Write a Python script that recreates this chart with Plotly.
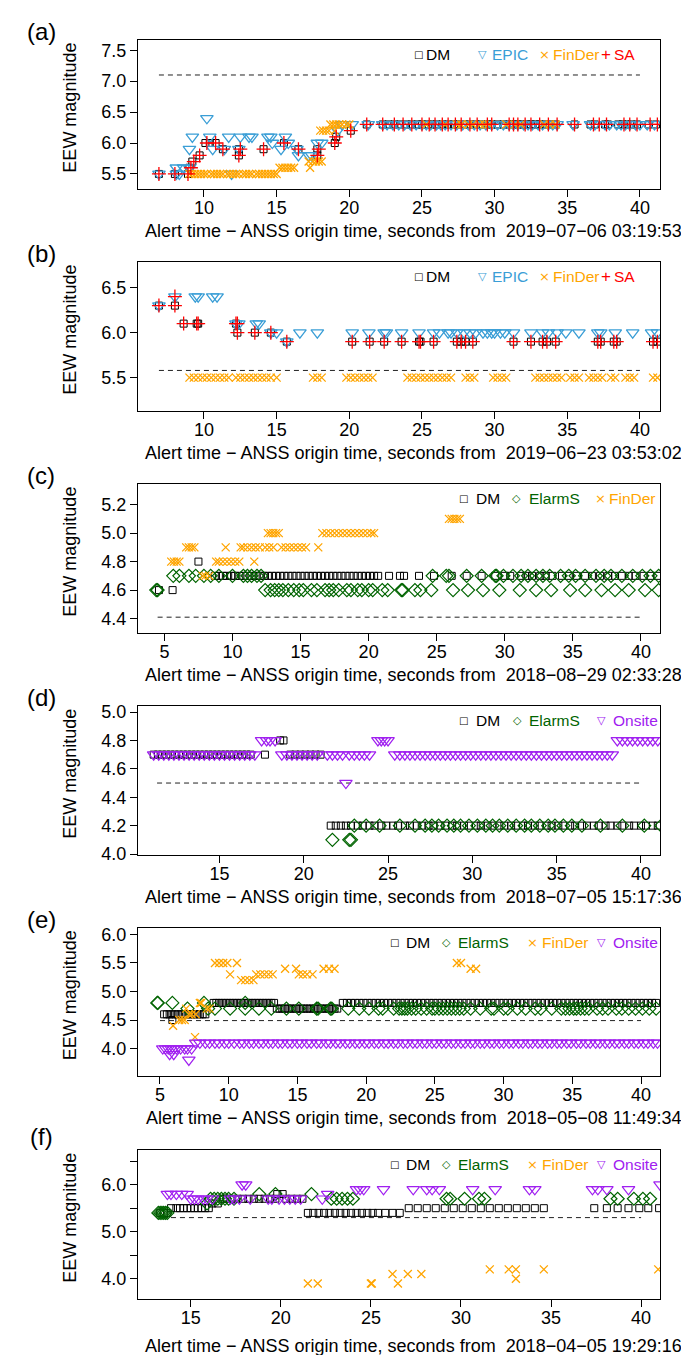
import plotly.graph_objects as go

# ---------------- data (magnitude -> alert times, s) ----------------
A_DM = {
    5.5: [6.9, 8.0, 8.9],
    5.6: [9.0],
    5.7: [9.2],
    5.8: [9.7, 12.4, 17.8],
    5.9: [11.3, 12.4, 14.1, 16.5, 17.8],
    6.0: [10.1, 10.4, 10.8, 15.5, 19.0],
    6.1: [19.1],
    6.2: [20.1],
    6.3: [21.2, 22.3, 22.7, 23.1, 23.5, 23.9, 24.3, 24.7, 25.0, 25.4, 25.7, 26.0, 26.4, 26.8,
          27.2, 27.5, 27.9, 28.3, 28.7, 29.1, 29.5, 29.8, 30.2, 30.6, 31.0, 31.3, 31.6, 31.9,
          32.2, 32.5, 32.8, 33.1, 33.5, 33.8, 34.2, 35.5, 36.6, 36.9, 37.6, 37.8, 38.5, 38.8,
          39.1, 39.4, 39.8, 40.6, 41.1],
}
A_EPIC = {
    5.5: [6.9, 8.1, 8.3, 11.9],
    5.6: [8.1, 8.6, 9.0],
    5.8: [16.5, 17.2, 17.4],
    5.9: [9.0, 10.6, 11.4, 12.4, 15.3, 16.4],
    6.0: [14.7, 15.8, 17.8, 18.1],
    6.1: [9.2, 10.4, 11.7, 12.5, 13.1, 13.3, 14.4, 14.6, 15.6],
    6.2: [19.2],
    6.3: [19.5, 20.2, 21.3, 22.3, 22.6, 23.0, 23.4, 23.8, 24.2, 24.6, 25.0, 25.3, 25.6, 26.0,
          26.3, 26.6, 27.0, 27.4, 27.8, 28.2, 28.6, 29.0, 29.4, 29.8, 30.2, 30.6, 31.0, 31.3,
          31.6, 32.0, 32.3, 32.6, 33.0, 33.3, 33.7, 34.0, 34.3, 35.4, 36.6, 36.9, 37.6, 37.9,
          38.4, 38.7, 39.0, 39.3, 39.7, 40.0, 40.5, 41.0],
    6.4: [10.2],
}
A_FINDER = {
    5.5: [9.0, 9.2, 9.4, 9.6, 9.8, 10.0, 10.2, 10.5, 10.7, 10.9, 11.1, 11.3, 11.6, 11.8, 12.0,
          12.2, 12.4, 12.7, 12.9, 13.1, 13.3, 13.6, 13.8, 14.0, 14.2, 14.4, 14.6, 14.8, 15.0],
    5.6: [15.2, 15.4, 15.6, 15.8, 16.0, 16.2, 17.3],
    5.7: [17.2, 17.5, 17.7, 17.9, 18.1],
    6.2: [18.0, 18.2, 18.4, 18.6, 19.0],
    6.3: [18.7, 18.9, 19.1, 19.3, 19.5, 19.8, 20.0, 25.3, 26.6, 27.4, 27.7, 28.2, 28.5, 29.0,
          29.3, 29.6, 30.8, 31.4, 31.8, 33.4, 33.8, 34.2],
}
A_SA = {
    5.5: [6.9, 8.0, 8.9],
    5.6: [9.1],
    5.7: [9.3],
    5.8: [9.7, 12.4, 17.8],
    5.9: [11.3, 12.5, 14.1, 16.5, 17.9],
    6.0: [10.2, 10.8, 15.5, 19.0],
    6.1: [19.1],
    6.2: [20.1],
    6.3: [21.2, 22.3, 23.1, 23.7, 24.3, 25.0, 25.5, 25.9, 26.4, 26.8, 27.3, 27.7, 28.3, 28.8,
          29.5, 29.8, 31.0, 31.3, 31.6, 32.1, 32.5, 33.1, 33.7, 34.3, 35.5, 36.8, 37.2, 37.7,
          38.9, 39.3, 39.8, 40.7, 41.2],
}
A_ANSS = [6.9, 40.0, 7.1]   # start time, end time, ANSS magnitude

B_DM = {
    6.3: [6.9, 8.0],
    6.1: [8.6, 9.5, 9.6, 12.2],
    6.0: [12.3, 13.5, 14.6],
    5.9: [15.7, 20.2, 21.4, 22.4, 23.6, 24.8, 24.9, 25.8, 27.4, 27.7, 28.0, 28.5, 31.3, 32.5,
          33.3, 33.6, 34.2, 37.1, 37.3, 38.2, 38.4, 40.9, 41.2],
}
B_EPIC = {
    6.3: [6.9],
    6.4: [8.0, 9.4, 9.6, 10.6, 10.9],
    6.1: [12.2, 12.4, 13.6, 13.8],
    6.0: [14.6, 15.0, 16.6, 17.8, 20.2, 21.35, 22.4, 22.55, 23.6, 24.8, 25.8, 26.2, 26.8, 27.0,
          27.4, 27.9, 28.3, 28.7, 29.2, 29.5, 29.8, 30.0, 30.4, 30.7, 31.3, 32.5, 33.3, 33.7,
          34.3, 34.9, 35.8, 37.1, 37.3, 38.3, 39.5, 40.8, 41.2],
    5.9: [15.7],
}
B_FINDER = {
    5.5: [9.0, 9.3, 9.6, 9.9, 10.2, 10.5, 10.8, 11.1, 11.4, 11.7, 12.2, 12.5, 12.8, 13.1, 13.4,
          13.7, 14.0, 14.3, 14.6, 15.0, 17.5, 17.8, 18.1, 19.8, 20.1, 20.4, 20.7, 21.0, 21.3,
          21.6, 24.0, 24.3, 24.6, 24.9, 25.2, 25.5, 25.8, 26.1, 26.4, 26.7, 27.0, 28.0, 28.3,
          28.6, 29.9, 30.2, 30.5, 30.8, 32.8, 33.1, 33.4, 33.7, 34.0, 34.3, 34.6, 35.2, 35.5,
          35.8, 36.5, 36.8, 37.1, 37.4, 38.0, 38.3, 39.0, 39.3, 39.6, 40.9, 41.2],
}
B_SA = {
    6.3: [6.9, 8.0],
    6.4: [8.0],
    6.1: [8.6, 9.5, 9.6, 12.2, 12.3],
    6.0: [12.3, 13.5, 14.6],
    5.9: [15.7, 20.2, 21.4, 22.4, 23.6, 24.8, 24.9, 25.8, 27.4, 27.7, 28.0, 28.5, 31.3, 32.5,
          33.3, 33.6, 34.2, 37.1, 37.3, 38.2, 38.4, 40.9, 41.2],
}
B_ANSS = [6.9, 40.0, 5.58]

C_DM = {
    4.6: [4.6, 5.6],
    4.8: [7.5],
    4.7: [8.7, 9.0, 9.3, 9.6, 9.9, 10.2, 10.5, 10.8, 11.1, 11.4, 11.7, 12.0, 12.3, 12.6, 12.9,
          13.2, 13.5, 13.8, 14.1, 14.4, 14.7, 15.0, 15.3, 15.6, 15.9, 16.2, 16.5, 16.8, 17.1,
          17.4, 17.7, 18.0, 18.3, 18.6, 18.9, 19.2, 19.5, 19.8, 20.1, 20.4, 20.7, 21.5, 22.3,
          22.6, 23.7, 24.8, 26.1, 27.2, 28.3, 29.3, 30.0, 30.4, 31.2, 31.6, 32.0, 32.6, 33.0,
          33.5, 34.2, 34.7, 35.3, 35.9, 36.4, 37.0, 37.6, 38.1, 38.6, 39.1, 39.6, 40.2, 40.7, 41.2],
}
C_ELARMS = {
    4.6: [4.4, 4.5, 12.4, 12.8, 13.1, 13.4, 13.7, 14.1, 14.5, 14.9, 15.2, 15.8, 16.2, 16.8, 17.1,
          17.4, 17.8, 18.4, 18.7, 19.2, 19.5, 20.0, 20.3, 21.0, 21.4, 22.4, 22.5, 23.4, 23.8,
          24.6, 26.2, 27.3, 28.4, 29.6, 31.1, 32.3, 33.4, 34.8, 35.9, 37.1, 38.1, 39.1, 40.3, 41.3],
    4.7: [5.65, 6.1, 6.8, 7.3, 7.9, 8.4, 9.0, 10.0, 10.8, 11.1, 11.4, 11.8, 12.1, 24.7, 25.7,
          25.9, 27.2, 28.3, 29.3, 29.4, 29.9, 30.6, 31.2, 31.7, 32.3, 32.8, 33.3, 34.1, 34.7,
          35.2, 35.9, 36.7, 37.3, 37.8, 38.6, 39.4, 40.1, 40.7, 41.3],
}
C_FINDER = {
    4.7: [7.8, 8.0, 8.3],
    4.8: [5.5, 5.7, 5.9, 6.1, 8.8, 9.0, 9.3, 9.6, 9.9, 10.2, 10.5, 11.6],
    4.9: [6.6, 6.8, 7.0, 7.2, 9.5, 10.6, 10.8, 11.1, 11.4, 11.7, 12.0, 12.4, 12.7, 13.0, 13.6,
          13.9, 14.2, 14.5, 14.8, 15.1, 15.4, 16.3],
    5.0: [12.6, 12.8, 13.0, 13.2, 13.4, 16.6, 16.9, 17.2, 17.5, 17.8, 18.1, 18.4, 18.7, 19.0,
          19.3, 19.6, 19.9, 20.2, 20.4],
    5.1: [25.9, 26.1, 26.3, 26.5, 26.7],
}
C_ANSS = [4.5, 40.0, 4.41]

D_DM = {
    4.7: [11.1, 11.35, 11.6, 11.85, 12.1, 12.35, 12.6, 12.85, 13.1, 13.35, 13.6, 13.85, 14.1,
          14.35, 14.6, 14.85, 15.1, 15.35, 15.6, 15.85, 16.1, 16.35, 16.6, 16.85, 17.7, 19.2,
          19.5, 19.8, 20.1, 20.4, 20.7, 21.0],
    4.8: [18.6, 18.8],
    4.2: [21.6, 21.9, 22.2, 22.5, 22.8, 23.2, 23.5, 23.9, 24.2, 24.6, 24.9, 25.3, 25.6, 26.0,
          26.3, 26.7, 27.0, 27.4, 27.7, 28.1, 28.4, 28.8, 29.1, 29.5, 29.8, 30.2, 30.5, 30.9,
          31.2, 31.6, 31.9, 32.3, 32.6, 33.0, 33.3, 33.7, 34.0, 34.4, 34.7, 35.1, 35.4, 35.8,
          36.1, 36.5, 36.8, 37.2, 37.5, 37.9, 38.2, 38.6, 38.9, 39.3, 39.6, 40.0, 40.3, 40.7, 41.0],
}
D_ELARMS = {
    4.1: [21.7, 22.7, 22.8],
    4.2: [23.0, 23.7, 24.5, 25.7, 26.6, 27.2, 27.6, 28.0, 28.5, 28.9, 29.3, 29.8, 30.3, 30.8,
          31.2, 31.6, 32.1, 32.6, 33.1, 33.5, 34.0, 34.5, 34.9, 35.4, 35.9, 36.5, 37.6, 38.9,
          40.2, 41.2],
}
D_ONSITE = {
    4.5: [22.5],
    4.7: [11.1, 11.4, 11.7, 12.0, 12.3, 12.6, 12.9, 13.2, 13.5, 13.8, 14.1, 14.4, 14.7, 15.0,
          15.3, 15.6, 15.9, 16.2, 16.5, 16.8, 17.1, 18.7, 19.0, 19.3, 19.6, 19.9, 20.2, 20.5,
          20.8, 21.4, 21.7, 22.0, 22.3, 22.7, 23.0, 23.3, 23.6, 23.9, 25.4, 25.7, 26.0, 26.3,
          26.6, 26.9, 27.2, 27.5, 27.8, 28.1, 28.4, 28.7, 29.0, 29.3, 29.6, 29.9, 30.2, 30.5,
          30.8, 31.1, 31.4, 31.7, 32.0, 32.3, 32.6, 32.9, 33.2, 33.5, 33.8, 34.1, 34.4, 34.7,
          35.0, 35.3, 35.6, 35.9, 36.2, 36.5, 36.8, 37.1, 37.4, 37.7, 38.0, 38.3],
    4.8: [17.5, 17.8, 18.0, 18.3, 24.4, 24.6, 24.8, 25.0, 38.6, 38.9, 39.2, 39.5, 39.8, 40.1,
          40.4, 40.7, 41.0],
}
D_ANSS = [11.3, 40.0, 4.5]

E_DM = {
    4.5: [5.9],
    4.6: [5.3, 5.5, 5.7, 5.9, 6.1, 6.3, 6.5, 6.7, 6.9, 7.1, 7.3, 7.5, 7.7, 7.9, 8.1, 8.3],
    4.7: [13.5, 13.7, 13.9, 14.1, 14.3, 14.5, 14.7, 14.9, 15.1, 15.3, 15.5, 15.7, 15.9, 16.1,
          16.3, 16.5, 16.7, 16.9, 17.1, 17.3, 17.5, 17.7, 17.9],
    4.8: [8.9, 9.1, 9.3, 9.5, 9.7, 9.9, 10.1, 10.3, 10.5, 10.7, 10.9, 11.1, 11.3, 11.5, 11.7,
          11.9, 12.1, 12.3, 12.5, 12.7, 12.9, 13.1, 13.3, 18.3, 18.6, 18.9, 19.2, 19.5, 19.8,
          20.1, 20.4, 20.7, 21.0, 21.3, 21.6, 21.9, 22.2, 22.5, 22.8, 23.1, 23.4, 23.7, 24.0,
          24.3, 24.6, 24.9, 25.2, 25.5, 25.8, 26.1, 26.4, 26.7, 27.0, 27.3, 27.6, 27.9, 28.2,
          28.5, 28.8, 29.1, 29.4, 29.7, 30.0, 30.3, 30.6, 30.9, 31.2, 31.5, 31.8, 32.1, 32.4,
          32.7, 33.0, 33.3, 33.6, 33.9, 34.2, 34.5, 34.8, 35.1, 35.4, 35.7, 36.0, 36.3, 36.6,
          36.9, 37.2, 37.5, 37.8, 38.1, 38.4, 38.7, 39.0, 39.3, 39.6, 39.9, 40.2, 40.5, 40.8, 41.1],
}
E_ELARMS = {
    4.8: [4.8, 4.85, 5.9, 8.2, 11.2],
    4.7: [7.0, 8.5, 9.0, 10.1, 11.2, 12.2, 13.1, 14.2, 15.1, 16.4, 16.5, 17.4, 17.5, 18.7, 19.5,
          20.2, 20.9, 21.2, 22.0, 22.4, 22.6, 22.8, 23.0, 23.3, 23.6, 24.0, 24.4, 24.8, 25.0,
          25.3, 25.6, 25.9, 26.2, 26.5, 26.8, 27.1, 27.6, 28.3, 29.1, 29.3, 30.0, 30.3, 31.0,
          31.6, 32.3, 32.7, 33.5, 34.2, 34.5, 34.8, 35.1, 35.3, 35.6, 35.9, 36.2, 36.8, 37.2,
          37.6, 38.2, 38.6, 39.1, 39.6, 40.1, 40.6, 41.1],
}
E_FINDER = {
    4.2: [7.55],
    4.4: [5.95],
    4.5: [6.4, 6.6, 6.8],
    4.6: [7.1, 7.3, 7.6],
    4.7: [6.9, 8.4, 8.6],
    4.8: [7.9, 8.0],
    5.2: [10.9, 11.2, 11.5, 11.8],
    5.3: [10.1, 12.0, 12.3, 12.6, 12.9, 13.2, 15.1, 15.4, 15.7, 16.1],
    5.4: [14.1, 14.9, 16.9, 17.3, 17.7, 27.6, 28.0],
    5.5: [9.0, 9.3, 9.6, 9.9, 10.6, 26.6, 26.9],
}
E_ONSITE = {
    3.8: [7.1],
    3.9: [5.7, 6.0],
    4.0: [5.2, 5.4, 5.6, 5.8, 6.0, 6.2, 6.5, 6.8, 7.0, 7.3],
    4.1: [7.6, 7.9, 8.3, 8.6, 9.0, 9.3, 9.7, 10.0, 10.4, 10.8, 11.1, 11.5, 11.8, 12.2, 12.5,
          12.9, 13.2, 13.6, 13.9, 14.3, 14.6, 15.0, 15.3, 15.7, 16.0, 16.4, 16.7, 17.1, 17.4,
          17.8, 18.1, 18.5, 18.8, 19.2, 19.5, 19.9, 20.2, 20.6, 20.9, 21.3, 21.6, 22.0, 22.3,
          22.7, 23.0, 23.4, 23.7, 24.1, 24.4, 24.8, 25.1, 25.5, 25.8, 26.2, 26.5, 26.9, 27.2,
          27.6, 27.9, 28.3, 28.6, 29.0, 29.3, 29.7, 30.0, 30.4, 30.7, 31.1, 31.4, 31.8, 32.1,
          32.5, 32.8, 33.2, 33.5, 33.9, 34.2, 34.6, 34.9, 35.3, 35.6, 36.0, 36.3, 36.7, 37.0,
          37.4, 37.7, 38.1, 38.4, 38.8, 39.1, 39.5, 39.8, 40.2, 40.5, 40.9, 41.2],
}
E_ANSS = [5.0, 40.0, 4.49]

F_DM = {
    5.4: [13.3, 13.5, 13.7, 21.5, 21.8, 22.1, 22.4, 22.7, 23.0, 23.3, 23.6, 23.9, 24.2, 24.5,
          24.8, 25.1, 25.4, 25.8, 26.2, 26.6],
    5.5: [13.9, 14.2, 14.4, 14.6, 14.8, 15.0, 15.2, 15.4, 15.6, 15.8, 16.0, 27.1, 27.6, 28.1,
          28.6, 29.1, 29.6, 30.1, 30.6, 31.1, 31.6, 32.1, 32.6, 33.1, 33.6, 34.1, 34.6, 37.4,
          38.1, 38.7, 39.3, 39.9, 40.4, 41.0],
    5.6: [16.2, 16.5],
    5.7: [16.8, 17.0, 17.3, 17.6, 17.9, 18.2, 18.5, 18.8, 19.1, 19.4, 19.7, 20.3, 20.6, 20.9, 21.2],
    5.8: [19.8, 20.1],
}
F_ELARMS = {
    5.4: [13.2, 13.3, 13.4, 13.5, 13.6, 13.7],
    5.6: [15.9],
    5.7: [16.1, 16.3, 16.5, 16.7, 16.9, 17.1, 17.4, 22.8, 23.1, 23.4, 23.7, 24.0, 29.2, 29.4,
          30.2, 31.0, 31.3, 38.3, 38.7, 39.6, 40.1, 40.5],
    5.8: [18.8, 19.7, 21.7],
}
F_FINDER = {
    3.9: [21.5, 22.05, 25.0, 25.05, 26.5],
    4.0: [33.05],
    4.1: [26.2, 27.05, 27.8],
    4.2: [31.6, 32.65, 33.05, 34.6, 40.95],
}
F_ONSITE = {
    5.7: [15.0, 15.2, 15.4, 15.7, 15.9, 16.2, 17.2, 17.4, 17.7, 18.3, 19.3, 19.5, 19.9, 20.2,
          20.5, 20.8, 21.1, 22.3],
    5.8: [13.7, 13.9, 14.2, 14.5, 14.8, 22.6],
    5.9: [24.2, 24.4, 24.6, 25.7, 27.35, 28.1, 28.4, 28.8, 30.65, 31.9, 33.8, 34.1, 37.3, 37.6,
          38.1, 39.3],
    6.0: [17.85, 18.05, 41.05],
}
F_ANSS = [13.4, 40.0, 5.3]

ORIGINS = ["2019\u221207\u221206 03:19:53", "2019\u221206\u221223 03:53:02",
           "2018\u221208\u221229 02:33:28", "2018\u221207\u221205 15:17:36",
           "2018\u221205\u221208 11:49:34", "2018\u221204\u221205 19:29:16"]
PANEL_LABELS = ["(a)", "(b)", "(c)", "(d)", "(e)", "(f)"]

X_RANGES = [[5.46, 41.38], [5.46, 41.38], [3.06, 41.4], [10.17, 41.13], [3.4, 41.38], [12.07, 41.05]]
X_TICKS = [[10, 15, 20, 25, 30, 35, 40], [10, 15, 20, 25, 30, 35, 40],
           [5, 10, 15, 20, 25, 30, 35, 40], [15, 20, 25, 30, 35, 40],
           [5, 10, 15, 20, 25, 30, 35, 40], [15, 20, 25, 30, 35, 40]]
Y_RANGES = [[5.25, 7.67], [5.125, 6.787], [4.296, 5.346], [3.99, 5.044], [3.51, 6.117], [3.56, 6.74]]
Y_TICKS = [[5.5, 6.0, 6.5, 7.0, 7.5], [5.5, 6.0, 6.5], [4.4, 4.6, 4.8, 5.0, 5.2],
           [4.0, 4.2, 4.4, 4.6, 4.8, 5.0], [4.0, 4.5, 5.0, 5.5, 6.0], [4.0, 4.5, 5.0, 5.5, 6.0, 6.5]]
Y_TICKTEXT = [["5.5", "6.0", "6.5", "7.0", "7.5"], ["5.5", "6.0", "6.5"],
              ["4.4", "4.6", "4.8", "5.0", "5.2"], ["4.0", "4.2", "4.4", "4.6", "4.8", "5.0"],
              ["4.0", "4.5", "5.0", "5.5", "6.0"], ["4.0", "", "5.0", "", "6.0", ""]]

# ---------------- styles ----------------
BLACK, EPIC_C, ORANGE, RED = "#000000", "#3A9ED6", "#FFA500", "#FF0000"
GREEN, PURPLE = "#006400", "#A020F0"
FONT = "Liberation Sans, Arial, Helvetica, sans-serif"
SYM = "DejaVu Sans, sans-serif"

STYLE = {
    "DM": dict(symbol="square-open", size=7, color=BLACK, line=dict(color=BLACK, width=1)),
    "EPIC": dict(symbol="triangle-down-open", size=11, color=EPIC_C, line=dict(color=EPIC_C, width=1.3)),
    "FinDer": dict(symbol="x-thin", size=8, color=ORANGE, line=dict(color=ORANGE, width=1.3)),
    "SA": dict(symbol="cross-thin", size=10, color=RED, line=dict(color=RED, width=1.3)),
    "ElarmS": dict(symbol="diamond-open", size=10, color=GREEN, line=dict(color=GREEN, width=1.2)),
    "Onsite": dict(symbol="triangle-down-open", size=11, color=PURPLE, line=dict(color=PURPLE, width=1.2)),
}

PANELS = [
    [("DM", A_DM), ("EPIC", A_EPIC), ("FinDer", A_FINDER), ("SA", A_SA)],
    [("DM", B_DM), ("EPIC", B_EPIC), ("FinDer", B_FINDER), ("SA", B_SA)],
    [("DM", C_DM), ("ElarmS", C_ELARMS), ("FinDer", C_FINDER)],
    [("DM", D_DM), ("ElarmS", D_ELARMS), ("Onsite", D_ONSITE)],
    [("DM", E_DM), ("ElarmS", E_ELARMS), ("FinDer", E_FINDER), ("Onsite", E_ONSITE)],
    [("DM", F_DM), ("ElarmS", F_ELARMS), ("FinDer", F_FINDER), ("Onsite", F_ONSITE)],
]
ANSS = [A_ANSS, B_ANSS, C_ANSS, D_ANSS, E_ANSS, F_ANSS]

# legend layout: (glyph, glyph_x, color, label, label_x)
LEG_AB = [("\u25a1", 410, BLACK, "DM", 416), ("\u25bd", 474, EPIC_C, "EPIC", 482),
          ("\u00d7", 536, ORANGE, "FinDer", 543), ("+", 598, RED, "SA", 604)]
LEG_C = [("\u25a1", 455, BLACK, "DM", 466), ("\u25c7", 508, GREEN, "ElarmS", 519),
         ("\u00d7", 592, ORANGE, "FinDer", 599)]
LEG_D = [("\u25a1", 455, BLACK, "DM", 466), ("\u25c7", 510, GREEN, "ElarmS", 519),
         ("\u25bd", 593, PURPLE, "Onsite", 603)]
LEG_EF = [("\u25a1", 386, BLACK, "DM", 396), ("\u25c7", 438, GREEN, "ElarmS", 448),
          ("\u00d7", 524, ORANGE, "FinDer", 532), ("\u25bd", 593, PURPLE, "Onsite", 603)]
LEGENDS = [LEG_AB, LEG_AB, LEG_C, LEG_D, LEG_EF, LEG_EF]
GLYPH_SIZE = {"\u25a1": 10, "\u25bd": 11, "\u25c7": 11, "\u00d7": 13, "+": 17}

W, H = 689, 1355
BOX_L, BOX_R = 130, 652
TOPS = [29, 253, 477, 701, 925, 1149]
BOTS = [180, 404, 628, 852, 1075, 1300]


def expand(d):
    xs, ys = [], []
    for mag, ts in d.items():
        xs.extend(ts)
        ys.extend([mag] * len(ts))
    return xs, ys


def px(x):
    return x / W


def py(y):
    return 1 - y / H


fig = go.Figure()
annotations = []
layout = {}

for i in range(6):
    n = "" if i == 0 else str(i + 1)
    xa, ya = "x" + n, "y" + n
    t0, t1, m = ANSS[i]
    fig.add_trace(go.Scatter(x=[t0, t1], y=[m, m], mode="lines", xaxis=xa, yaxis=ya,
                             line=dict(color="#222222", width=1, dash="5px,4px"),
                             showlegend=False, hoverinfo="skip"))
    for name, d in PANELS[i]:
        xs, ys = expand(d)
        fig.add_trace(go.Scatter(x=xs, y=ys, mode="markers", xaxis=xa, yaxis=ya, name=name,
                                 marker=STYLE[name], showlegend=False))

    common = dict(showline=True, mirror=True, linecolor="black", linewidth=1, ticks="outside",
                  ticklen=7, tickwidth=1, tickcolor="black", showgrid=False, zeroline=False,
                  tickfont=dict(family=FONT, size=18, color="black"))
    layout["xaxis" + n] = dict(domain=[px(BOX_L), px(BOX_R)], range=X_RANGES[i],
                               tickvals=X_TICKS[i], anchor=ya, ticklabelstandoff=-5, **common)
    layout["yaxis" + n] = dict(domain=[py(BOTS[i]), py(TOPS[i])], range=Y_RANGES[i],
                               tickvals=Y_TICKS[i], ticktext=Y_TICKTEXT[i], anchor=xa, **common)

    annotations.append(dict(text=PANEL_LABELS[i], x=px(33), y=py(TOPS[i] - (13 if i == 5 else 8)),
                            xref="paper", yref="paper", showarrow=False, xanchor="center",
                            yanchor="middle", font=dict(family=FONT, size=24, color="black")))
    annotations.append(dict(text="EEW magnitude", x=px(62), y=py((TOPS[i] + BOTS[i]) / 2 - 7),
                            xref="paper", yref="paper", showarrow=False, textangle=-90,
                            xanchor="center", yanchor="middle",
                            font=dict(family=FONT, size=18, color="black")))
    annotations.append(dict(text="Alert time \u2212 ANSS origin time, seconds from \u00a0" + ORIGINS[i],
                            x=px(405), y=py(BOTS[i] + (47 if i == 5 else 42)),
                            xref="paper", yref="paper", showarrow=False, xanchor="center",
                            yanchor="middle", font=dict(family=FONT, size=18, color="black")))
    ly = py(TOPS[i] + 15)
    for glyph, gx, col, lab, lx in LEGENDS[i]:
        annotations.append(dict(text=glyph, x=px(gx), y=ly, xref="paper", yref="paper",
                                showarrow=False, xanchor="center", yanchor="middle",
                                font=dict(family=FONT if glyph == "+" else SYM,
                                          size=GLYPH_SIZE[glyph], color=col)))
        annotations.append(dict(text=lab, x=px(lx), y=ly, xref="paper", yref="paper",
                                showarrow=False, xanchor="left", yanchor="middle",
                                font=dict(family=FONT, size=15.5, color=col)))

fig.update_layout(width=W, height=H, autosize=False, margin=dict(l=0, r=0, t=0, b=0),
                  paper_bgcolor="white", plot_bgcolor="white", annotations=annotations,
                  showlegend=False, **layout)

fig.write_html("out.html")
